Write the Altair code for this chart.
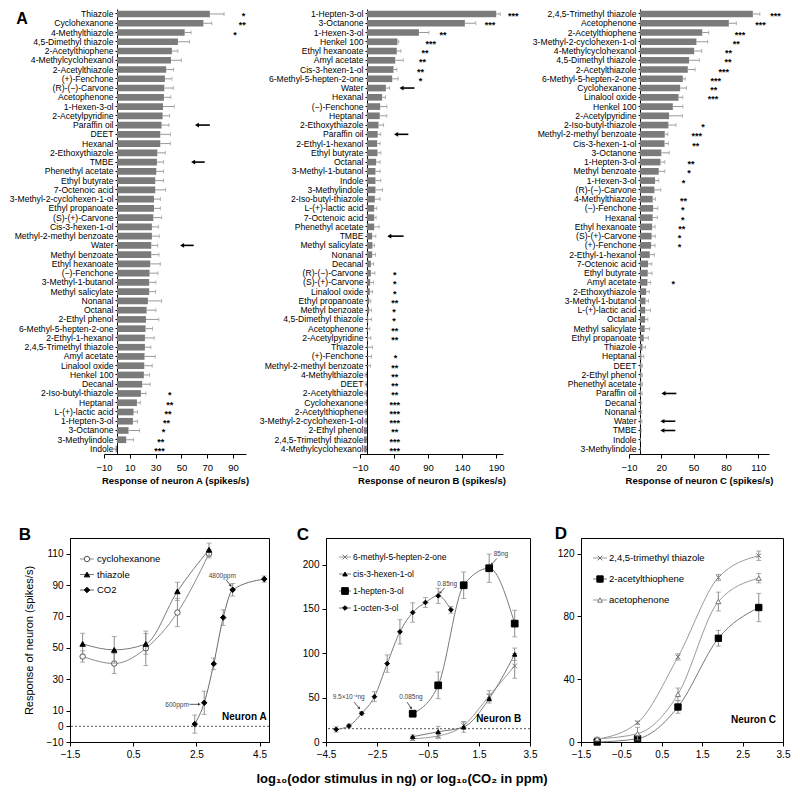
import math
import altair as alt
import numpy as np
import pandas as pd

FONT = "Liberation Sans"

# ================= Panel A : neuron A =================
a1_names = ["Thiazole", "Cyclohexanone", "4-Methylthiazole", "4,5-Dimethyl thiazole", "2-Acetylthiophene",
            "4-Methylcyclohexanol", "2-Acetylthiazole", "(+)-Fenchone", "(R)-(−)-Carvone", "Acetophenone",
            "1-Hexen-3-ol", "2-Acetylpyridine", "Paraffin oil", "DEET", "Hexanal", "2-Ethoxythiazole", "TMBE",
            "Phenethyl acetate", "Ethyl butyrate", "7-Octenoic acid", "3-Methyl-2-cyclohexen-1-ol",
            "Ethyl propanoate", "(S)-(+)-Carvone", "Cis-3-hexen-1-ol", "Methyl-2-methyl benzoate", "Water",
            "Methyl benzoate", "Ethyl hexanoate", "(−)-Fenchone", "3-Methyl-1-butanol", "Methyl salicylate",
            "Nonanal", "Octanal", "2-Ethyl phenol", "6-Methyl-5-hepten-2-one", "2-Ethyl-1-hexanol",
            "2,4,5-Trimethyl thiazole", "Amyl acetate", "Linalool oxide", "Henkel 100", "Decanal",
            "2-Iso-butyl-thiazole", "Heptanal", "L-(+)-lactic acid", "1-Hepten-3-ol", "3-Octanone",
            "3-Methylindole", "Indole"]
a1_vals = [72, 67, 52.5, 47.3, 42.6, 41.9, 38.2, 37.2, 36.7, 36.4, 35.7, 35.4, 34.6, 33.6, 33.6, 31.3, 31,
           30.5, 29.7, 29.7, 28.7, 28.7, 28.2, 27.1, 27.1, 26.6, 26.6, 25.8, 25.3, 25, 25, 24, 23, 22.5, 22.2,
           21.7, 21.7, 21.4, 21.2, 20.9, 19.6, 18.6, 15.5, 12.9, 12.4, 9, 7.2, -1]
a1_errs = [11, 6.5, 5, 9, 4.6, 8, 5.7, 5.4, 7, 5.4, 8.8, 5.4, 5.7, 7.8, 7.8, 6.2, 5.2, 5.7, 6.5, 8, 5, 5, 6.5,
           5.2, 5.7, 5, 6, 7.8, 6.5, 5.2, 5, 10.6, 7.2, 10, 5.4, 7.2, 4.6, 8.3, 6.2, 4.4, 6.2, 3.9, 2.6, 3.1,
           3.6, 8.5, 5.7, 3]
a1_sig_names = ["Thiazole", "Cyclohexanone", "4-Methylthiazole", "2-Iso-butyl-thiazole", "Heptanal",
                "L-(+)-lactic acid", "1-Hepten-3-ol", "3-Octanone", "3-Methylindole", "Indole"]
a1_sig_marks = ["*", "**", "*", "*", "**", "**", "**", "*", "**", "***"]
a1_sig_x = [98, 97, 91.5, 41, 41, 39.5, 38.5, 36, 34, 33]
a1_arrow_names = ["Paraffin oil", "TMBE", "Water"]
a1_arrow_from = [62, 59, 50.5]
a1_arrow_to = [72, 68, 59.5]

# ================= Panel A : neuron B =================
a2_names = ["1-Hepten-3-ol", "3-Octanone", "1-Hexen-3-ol", "Henkel 100", "Ethyl hexanoate", "Amyl acetate",
            "Cis-3-hexen-1-ol", "6-Methyl-5-hepten-2-one", "Water", "Hexanal", "(−)-Fenchone", "Heptanal",
            "2-Ethoxythiazole", "Paraffin oil", "2-Ethyl-1-hexanol", "Ethyl butyrate", "Octanal",
            "3-Methyl-1-butanol", "Indole", "3-Methylindole", "2-Iso-butyl-thiazole", "L-(+)-lactic acid",
            "7-Octenoic acid", "Phenethyl acetate", "TMBE", "Methyl salicylate", "Nonanal", "Decanal",
            "(R)-(−)-Carvone", "(S)-(+)-Carvone", "Linalool oxide", "Ethyl propanoate", "Methyl benzoate",
            "4,5-Dimethyl thiazole", "Acetophenone", "2-Acetylpyridine", "Thiazole", "(+)-Fenchone",
            "Methyl-2-methyl benzoate", "4-Methylthiazole", "DEET", "2-Acetylthiazole", "Cyclohexanone",
            "2-Acetylthiophene", "3-Methyl-2-cyclohexen-1-ol", "2-Ethyl phenol", "2,4,5-Trimethyl thiazole",
            "4-Methylcyclohexanol"]
a2_vals = [190, 144, 76.5, 45, 44, 41.7, 39.2, 37.3, 28, 22.5, 19.6, 19, 17.2, 16, 15.2, 15.7, 13.7, 12.7,
           12.7, 12.7, 11.8, 10.8, 10.8, 10.8, 7.8, 8.3, 7.8, 5.9, 5.9, 4.9, 4.4, 3.4, 3.4, 2, 1.5, 1.5, 1,
           0.5, 0.3, -1, -1, -1.5, -1.5, -2, -2, -4, -4, -4]
a2_errs = [6, 16, 14.7, 2, 6, 11.8, 5, 8.8, 5.4, 5, 9.8, 10.3, 7.4, 4.4, 4.4, 4.9, 5.9, 6.9, 7.8, 10.3, 7.8,
           3.9, 2.9, 7.4, 5.4, 3, 5, 4, 6, 5, 4, 2.5, 3.5, 5, 3, 4.4, 7.4, 6.4, 5, 1.5, 1.5, 1.5, 1.5, 1.5,
           1.5, 3.5, 2, 2]
a2_sig_names = ["1-Hepten-3-ol", "3-Octanone", "1-Hexen-3-ol", "Henkel 100", "Ethyl hexanoate", "Amyl acetate",
                "Cis-3-hexen-1-ol", "6-Methyl-5-hepten-2-one", "(R)-(−)-Carvone", "(S)-(+)-Carvone",
                "Linalool oxide", "Ethyl propanoate", "Methyl benzoate", "4,5-Dimethyl thiazole", "Acetophenone",
                "2-Acetylpyridine", "(+)-Fenchone", "Methyl-2-methyl benzoate", "4-Methylthiazole", "DEET",
                "2-Acetylthiazole", "Cyclohexanone", "2-Acetylthiophene", "3-Methyl-2-cyclohexen-1-ol",
                "2-Ethyl phenol", "2,4,5-Trimethyl thiazole", "4-Methylcyclohexanol"]
a2_sig_marks = ["***", "***", "**", "***", "**", "**", "**", "*", "*", "*", "*", "**", "*", "*", "**", "**",
                "*", "**", "**", "**", "**", "***", "***", "***", "**", "***", "***"]
a2_sig_x = [215, 181, 112, 94, 85.5, 81.6, 79, 79, 41, 41, 41, 41, 40, 40, 41, 41, 42, 41, 41, 41, 41, 41,
            41, 41, 41, 41, 41]
a2_arrow_names = ["Water", "Paraffin oil", "TMBE"]
a2_arrow_from = [51, 43, 33]
a2_arrow_to = [70, 61, 54]

# ================= Panel A : neuron C =================
a3_names = ["2,4,5-Trimethyl thiazole", "Acetophenone", "2-Acetylthiophene", "3-Methyl-2-cyclohexen-1-ol",
            "4-Methylcyclohexanol", "4,5-Dimethyl thiazole", "2-Acetylthiazole", "6-Methyl-5-hepten-2-one",
            "Cyclohexanone", "Linalool oxide", "Henkel 100", "2-Acetylpyridine", "2-Iso-butyl-thiazole",
            "Methyl-2-methyl benzoate", "Cis-3-hexen-1-ol", "3-Octanone", "1-Hepten-3-ol", "Methyl benzoate",
            "1-Hexen-3-ol", "(R)-(−)-Carvone", "4-Methylthiazole", "(−)-Fenchone", "Hexanal", "Ethyl hexanoate",
            "(S)-(+)-Carvone", "(+)-Fenchone", "2-Ethyl-1-hexanol", "7-Octenoic acid", "Ethyl butyrate",
            "Amyl acetate", "2-Ethoxythiazole", "3-Methyl-1-butanol", "L-(+)-lactic acid", "Octanal",
            "Methyl salicylate", "Ethyl propanoate", "Thiazole", "Heptanal", "DEET", "2-Ethyl phenol",
            "Phenethyl acetate", "Paraffin oil", "Decanal", "Nonanal", "Water", "TMBE", "Indole",
            "3-Methylindole"]
a3_vals = [105, 82.7, 58, 52.6, 50.5, 45.8, 44.6, 40, 37.5, 36, 30.7, 27.2, 26.6, 23.2, 23, 20, 19.2, 17.6,
           14.2, 13.6, 12, 12.4, 12, 11.5, 11, 10.5, 9.3, 7.7, 7.4, 7.1, 5.9, 5.3, 5, 5, 4.6, 3.7, 2.5, 1.5,
           1.5, 1.5, 1.5, 1.2, 1, 1, 1.2, 0.6, 0.2, 0]
a3_errs = [6.5, 7, 6, 10.5, 7, 9.6, 6.8, 2.2, 5.9, 4, 9.3, 12.4, 7, 2.8, 3.7, 7.4, 4, 5.6, 3.4, 5.9, 2.5, 4.3,
           4.3, 2.8, 3.4, 3.7, 4.3, 3.4, 4, 3, 3, 2.8, 5, 2.5, 4.6, 4.3, 2.8, 2.2, 1, 1, 1, 1, 0.8, 0.8, 0.8,
           0.8, 0.5, 0.3]
a3_sig_names = ["2,4,5-Trimethyl thiazole", "Acetophenone", "2-Acetylthiophene", "3-Methyl-2-cyclohexen-1-ol",
                "4-Methylcyclohexanol", "4,5-Dimethyl thiazole", "2-Acetylthiazole", "6-Methyl-5-hepten-2-one",
                "Cyclohexanone", "Linalool oxide", "2-Iso-butyl-thiazole", "Methyl-2-methyl benzoate",
                "Cis-3-hexen-1-ol", "1-Hepten-3-ol", "Methyl benzoate", "1-Hexen-3-ol", "4-Methylthiazole",
                "(−)-Fenchone", "Hexanal", "Ethyl hexanoate", "(S)-(+)-Carvone", "(+)-Fenchone", "Amyl acetate"]
a3_sig_marks = ["***", "***", "***", "**", "**", "**", "***", "***", "**", "***", "*", "***", "**", "**", "*",
                "*", "**", "*", "*", "**", "*", "*", "*"]
a3_sig_x = [126, 112, 93, 89.5, 82.5, 82, 78, 70.6, 68.8, 68, 58.6, 53, 52, 47.5, 45.7, 40.7, 40.7, 40, 40,
            39, 37, 37, 31]
a3_arrow_names = ["Paraffin oil", "Water", "TMBE"]
a3_arrow_from = [22, 21, 21]
a3_arrow_to = [34, 33, 33]

# ================= Panel B (neuron A dose response) =================
b_x = [-1.1, -0.1, 0.9, 1.9, 2.9]
b_cyclohexanone_y = [44.5, 40, 49.7, 72.5, 110]
b_cyclohexanone_e = [3.6, 6.4, 11, 9, 2.7]
b_thiazole_y = [52.5, 48.7, 52.5, 86, 112.5]
b_thiazole_e = [6.8, 8.5, 6.6, 5.8, 4.2]
b_co2_x = [2.45, 2.75, 3.05, 3.35, 3.65, 4.65]
b_co2_y = [1.4, 15, 39.8, 69.3, 87, 93.8]
b_co2_e = [5.8, 7.4, 3.7, 5, 4, 2]

# ================= Panel C (neuron B dose response) =================
c_x = [-1.1, -0.1, 0.9, 1.9, 2.9]
c_methylheptenone_y = [3.7, 6.8, 18.7, 51.9, 85.8]
c_methylheptenone_e = [2, 3, 4, 6, 14]
c_hexenol_y = [6, 11.6, 16.9, 48.9, 98.9]
c_hexenol_e = [2, 6, 6, 5, 7]
c_heptenol_y = [31.9, 63.9, 176.7, 195.9, 133.5]
c_heptenol_e = [3, 15, 15, 16, 15]
c_octenol_x = [-4.1, -3.6, -3.1, -2.6, -2.1, -1.6, -1.1, -0.6, -0.1, 0.4]
c_octenol_y = [14.2, 18.1, 32.3, 51.1, 88.4, 124.2, 146, 157.3, 164.8, 149]
c_octenol_e = [3, 2, 2, 5.6, 9.8, 13.7, 11, 5.6, 8.5, 3.8]

# ================= Panel D (neuron C dose response) =================
d_x = [-1.1, -0.1, 0.9, 1.9, 2.9]
d_trimethyl_y = [1.7, 12.3, 54.2, 104.8, 118.7]
d_trimethyl_e = [1, 1, 2, 2, 3]
d_acetylthiophene_y = [0, 2.1, 22.3, 66.1, 85.7]
d_acetylthiophene_e = [0.5, 1, 4, 5, 9]
d_acetophenone_y = [2, 5.3, 30.4, 89.5, 104.4]
d_acetophenone_e = [1, 4, 4, 6, 3]

XPATH = "M-1,-1L1,1M-1,1L1,-1"
ERRC = "#8c8c8c"


def one_row(**kw):
    return pd.DataFrame({k: [v] for k, v in kw.items()})


def bar_panel(names, vals, errs, sig_names, sig_marks, sig_x, arr_names, arr_from, arr_to,
              domain, ticks, width, height, y_offset, xtitle, letter=None):
    df = pd.DataFrame({"odor": names, "v": vals, "e": errs})
    df["z"] = 0.0
    df["end"] = np.where(df["v"] >= 0, df["v"] + df["e"], df["v"] - df["e"])
    ysc = alt.Scale(domain=list(names), paddingInner=0.28, paddingOuter=0.18)
    xsc = alt.Scale(domain=domain, nice=False, zero=False)
    yax = alt.Axis(title=None, offset=y_offset, labelFontSize=8.6, labelColor="black", labelPadding=2,
                   tickSize=2, tickColor="black", domainColor="black", labelLimit=300)
    xax = alt.Axis(title=xtitle, values=ticks, grid=False, labelFontSize=9.5, labelColor="black",
                   labelPadding=4, tickSize=4, tickColor="black", domainColor="black", labelFlush=False,
                   titleFontSize=9.5, titleFontWeight="bold", titlePadding=4, titleColor="black")
    Y = alt.Y("odor:N", scale=ysc, axis=yax)

    def X(f):
        return alt.X(f, scale=xsc, axis=xax)

    base = alt.Chart(df)
    bars = base.mark_bar(color="#7b7b7b").encode(y=Y, x=X("z:Q"), x2="v:Q")
    err = base.mark_rule(color="#9a9a9a", strokeWidth=1).encode(y=Y, x=X("v:Q"), x2="end:Q")
    cap = base.mark_tick(color="#9a9a9a", thickness=1, size=4, orient="vertical").encode(y=Y, x=X("end:Q"))
    sdf = pd.DataFrame({"odor": sig_names, "mark": sig_marks, "sx": sig_x})
    stars = alt.Chart(sdf).mark_text(fontSize=9, fontWeight="bold", color="black", dy=2).encode(
        y=Y, x=X("sx:Q"), text="mark:N")
    adf = pd.DataFrame({"odor": arr_names, "x1": arr_from, "x2": arr_to})
    arule = alt.Chart(adf).mark_rule(color="black", strokeWidth=1.6).encode(y=Y, x=X("x1:Q"), x2="x2:Q")
    ahead = alt.Chart(adf).mark_point(shape="triangle-left", filled=True, color="black", size=22,
                                      opacity=1).encode(y=Y, x=X("x1:Q"))
    layers = [bars, err, cap, stars, arule, ahead]
    if letter is not None:
        layers.append(alt.Chart(one_row(t=letter)).mark_text(
            fontSize=16, fontWeight="bold", align="center", baseline="middle", color="black").encode(
            x=alt.value(-82), y=alt.value(10), text="t:N"))
    return alt.layer(*layers).properties(width=width, height=height)


def line_panel(series, xdom, xticks, ydom, yticks, width, height, ytitle, base_y,
               neuron, neuron_x, neuron_y, legend, notes, arrows, letter, letter_xy, extra=None):
    xsc = alt.Scale(domain=xdom, nice=False, zero=False)
    ysc = alt.Scale(domain=ydom, nice=False, zero=False)
    xax = alt.Axis(values=xticks, format=".1f", title=None, grid=False, labelFontSize=10, labelColor="black",
                   tickSize=4, tickColor="black", domainColor="black", labelPadding=3, labelFlush=False)
    yax = alt.Axis(values=yticks, title=ytitle, grid=False, labelFontSize=10, labelColor="black",
                   tickSize=4, tickColor="black", domainColor="black", labelPadding=3, labelFlush=False,
                   titleFontSize=11, titleFontWeight="normal", titlePadding=12, titleColor="black")
    kx = width / (xdom[1] - xdom[0])
    ky = height / (ydom[1] - ydom[0])

    def X(f):
        return alt.X(f, scale=xsc, axis=xax)

    def Y(f):
        return alt.Y(f, scale=ysc, axis=yax)

    layers = []
    if base_y is not None:
        layers.append(alt.Chart(one_row(b=base_y)).mark_rule(color="#555555", strokeDash=[2, 2], strokeWidth=1)
                      .encode(y=Y("b:Q")))
    for s in series:
        df = pd.DataFrame({"x": s["x"], "y": s["y"], "e": s["e"]})
        df["lo"] = df["y"] - df["e"]
        df["hi"] = df["y"] + df["e"]
        c = alt.Chart(df)
        layers.append(c.mark_line(interpolate="monotone", color=s["line"], strokeWidth=1).encode(
            x=X("x:Q"), y=Y("y:Q")))
        layers.append(c.mark_rule(color=ERRC, strokeWidth=1).encode(x=X("x:Q"), y=Y("lo:Q"), y2="hi:Q"))
        layers.append(c.mark_tick(orient="horizontal", color=ERRC, size=5, thickness=1).encode(
            x=X("x:Q"), y=Y("lo:Q")))
        layers.append(c.mark_tick(orient="horizontal", color=ERRC, size=5, thickness=1).encode(
            x=X("x:Q"), y=Y("hi:Q")))
        layers.append(c.mark_point(shape=s["shape"], size=s["size"], filled=True, fill=s["fill"],
                                   stroke=s["stroke"], strokeWidth=1, opacity=1).encode(
            x=X("x:Q"), y=Y("y:Q")))
    # legend drawn inside the frame
    lx0, lx1, lxp, lxt, ly0, ldy, lfs = legend
    for i, s in enumerate(series):
        yy = ly0 + i * ldy
        r = alt.Chart(one_row(t=s["label"]))
        layers.append(r.mark_rule(color=s["line"], strokeWidth=1).encode(
            x=alt.value(lx0), x2=alt.value(lx1), y=alt.value(yy)))
        layers.append(r.mark_point(shape=s["shape"], size=s["size"], filled=True, fill=s["fill"],
                                   stroke=s["stroke"], strokeWidth=1, opacity=1).encode(
            x=alt.value(lxp), y=alt.value(yy)))
        layers.append(r.mark_text(align="left", baseline="middle", fontSize=lfs, color="black").encode(
            x=alt.value(lxt), y=alt.value(yy), text="t:N"))
    # neuron label
    layers.append(alt.Chart(one_row(x=neuron_x, y=neuron_y, t=neuron)).mark_text(
        fontWeight="bold", fontSize=10, color="black").encode(x=X("x:Q"), y=Y("y:Q"), text="t:N"))
    # small annotations with arrows
    for (t, ax, ay) in notes:
        layers.append(alt.Chart(one_row(x=ax, y=ay, t=t)).mark_text(fontSize=6.5, color="#444444").encode(
            x=X("x:Q"), y=Y("y:Q"), text="t:N"))
    for (x1, y1, x2, y2) in arrows:
        adf = one_row(x=x1, y=y1, x2=x2, y2=y2)
        layers.append(alt.Chart(adf).mark_rule(color="#333333", strokeWidth=0.8).encode(
            x=X("x:Q"), y=Y("y:Q"), x2="x2:Q", y2="y2:Q"))
        dx = (x2 - x1) * kx
        dy = -(y2 - y1) * ky
        ang = math.degrees(math.atan2(dx, -dy)) % 360
        layers.append(alt.Chart(adf).mark_point(shape="triangle", angle=ang, filled=True, color="#333333",
                                                size=9, opacity=1).encode(x=X("x2:Q"), y=Y("y2:Q")))
    layers.append(alt.Chart(one_row(t=letter)).mark_text(
        fontSize=17, fontWeight="bold", align="center", baseline="middle", color="black").encode(
        x=alt.value(letter_xy[0]), y=alt.value(letter_xy[1]), text="t:N"))
    if extra is not None:
        layers.extend(extra)
    return alt.layer(*layers).properties(
        width=width, height=height, view=alt.ViewBackground(stroke="black", strokeWidth=1))


# ---------------- Panel A charts ----------------
A1 = bar_panel(a1_names, a1_vals, a1_errs, a1_sig_names, a1_sig_marks, a1_sig_x,
               a1_arrow_names, a1_arrow_from, a1_arrow_to, [-10, 100], [-10, 10, 30, 50, 70, 90],
               142, 445, -13, "Response of neuron A (spikes/s)", letter="A")
A2 = bar_panel(a2_names, a2_vals, a2_errs, a2_sig_names, a2_sig_marks, a2_sig_x,
               a2_arrow_names, a2_arrow_from, a2_arrow_to, [-10, 200], [-10, 40, 90, 140, 190],
               143, 445, -7, "Response of neuron B (spikes/s)")
A3 = bar_panel(a3_names, a3_vals, a3_errs, a3_sig_names, a3_sig_marks, a3_sig_x,
               a3_arrow_names, a3_arrow_from, a3_arrow_to, [-10, 120], [-10, 20, 50, 80, 110],
               140, 445, -11, "Response of neuron C (spikes/s)")

# ---------------- Panel B ----------------
B = line_panel(
    [dict(x=b_x, y=b_cyclohexanone_y, e=b_cyclohexanone_e, shape="circle", size=30, fill="white",
          stroke="#555555", line="#8a8a8a", label="cyclohexanone"),
     dict(x=b_x, y=b_thiazole_y, e=b_thiazole_e, shape="triangle-up", size=30, fill="black",
          stroke="black", line="#7a7a7a", label="thiazole"),
     dict(x=b_co2_x, y=b_co2_y, e=b_co2_e, shape="diamond", size=30, fill="black",
          stroke="black", line="#6a6a6a", label="CO2")],
    [-1.5, 4.8], [-1.5, 0.5, 2.5, 4.5], [-10, 120], [-10, 0, 10, 30, 50, 70, 90, 110], 199, 204,
    "Response of neuron  (spikes/s)", 0, "Neuron A", 4.02, 6,
    (10, 24, 17, 27, 21, 15.5, 9.5),
    [("600ppm", 1.89, 13.6), ("4800ppm", 3.32, 95.9)],
    [(2.28, 14, 2.58, 14), (3.44, 93.4, 3.58, 89.8)],
    "B", (-45, -3))

# ---------------- Panel C ----------------
C_title = alt.Chart(one_row(t="log₁₀(odor stimulus in ng) or log₁₀(CO₂ in ppm)")).mark_text(
    fontSize=13, fontWeight="bold", align="center", baseline="middle", color="black").encode(
    x=alt.value(76), y=alt.value(241), text="t:N")
C = line_panel(
    [dict(x=c_x, y=c_methylheptenone_y, e=c_methylheptenone_e, shape=XPATH, size=22, fill="transparent",
          stroke="#777777", line="#9a9a9a", label="6-methyl-5-hepten-2-one"),
     dict(x=c_x, y=c_hexenol_y, e=c_hexenol_e, shape="triangle-up", size=20, fill="black",
          stroke="black", line="#7a7a7a", label="cis-3-hexen-1-ol"),
     dict(x=c_x, y=c_heptenol_y, e=c_heptenol_e, shape="square", size=45, fill="black",
          stroke="black", line="#7a7a7a", label="1-hepten-3-ol"),
     dict(x=c_octenol_x, y=c_octenol_y, e=c_octenol_e, shape="diamond", size=22, fill="black",
          stroke="black", line="#7a7a7a", label="1-octen-3-ol")],
    [-4.5, 3.5], [-4.5, -2.5, -0.5, 1.5, 3.5], [0, 230], [0, 50, 100, 150, 200], 204, 204,
    None, 15, "Neuron B", 2.27, 26,
    (13, 25, 19, 27, 19, 17, 8.5),
    [("9.5×10⁻⁴ng", -3.61, 50.8), ("0.085ng", -1.17, 50.8), ("0.85ng", 0.25, 178.7), ("85ng", 2.36, 211.4)],
    [(-3.40, 45, -3.21, 38.5), (-1.32, 45, -1.17, 38.5), (0.14, 173.5, -0.02, 168.5), (2.2, 207, 2.0, 200.5)],
    "C", (-23, -3), extra=[C_title])

# ---------------- Panel D ----------------
D = line_panel(
    [dict(x=d_x, y=d_trimethyl_y, e=d_trimethyl_e, shape=XPATH, size=22, fill="transparent",
          stroke="#777777", line="#9a9a9a", label="2,4,5-trimethyl thiazole"),
     dict(x=d_x, y=d_acetylthiophene_y, e=d_acetylthiophene_e, shape="square", size=40, fill="black",
          stroke="black", line="#7a7a7a", label="2-acetylthiophene"),
     dict(x=d_x, y=d_acetophenone_y, e=d_acetophenone_e, shape="triangle-up", size=25, fill="white",
          stroke="#777777", line="#9a9a9a", label="acetophenone")],
    [-1.5, 3.5], [-1.5, -0.5, 0.5, 1.5, 2.5, 3.5], [0, 130], [0, 40, 80, 120], 202, 204,
    None, None, "Neuron C", 2.77, 13.8,
    (12, 26, 19, 28, 20, 21, 9.5),
    [], [],
    "D", (-20, -4))


def spacer(w, h):
    return alt.Chart(one_row(s=0)).mark_point(opacity=0, size=1).encode(
        x=alt.value(0), y=alt.value(1)).properties(width=w, height=h)


# the upper row starts 34 px to the right of the lower row (as in the figure)
row1 = alt.hconcat(spacer(34, 20), A1, spacer(114, 20), A2, spacer(126, 20), A3, spacing=0, bounds="flush")
row2 = alt.hconcat(B, spacer(57, 20), C, spacer(51, 20), D, spacing=0, bounds="flush")

chart = alt.vconcat(row1, row2, spacing=38).properties(
    padding={"left": 0, "right": 0, "top": 0, "bottom": 0}
).configure(font=FONT).configure_view(stroke="transparent")

chart.save("out.html", embed_options={"renderer": "svg", "actions": False})
